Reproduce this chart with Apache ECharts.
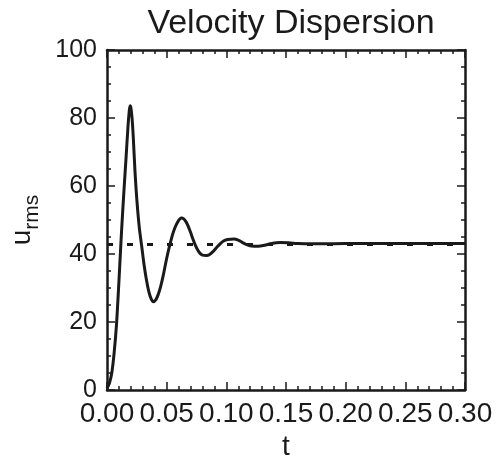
<!DOCTYPE html>
<html>
<head>
<meta charset="utf-8">
<script src="https://cdn.jsdelivr.net/npm/echarts@6/dist/echarts.min.js"></script>
<style>html,body{margin:0;padding:0;background:#fff;}#c{width:497px;height:466px;}</style>
</head>
<body>
<div id="c"></div>
<script>
var titleText = 'Velocity Dispersion';
var xName = 't';
var xTickLabels = ['0.00', '0.05', '0.10', '0.15', '0.20', '0.25', '0.30'];
var yTickLabels = ['0', '20', '40', '60', '80', '100'];
var tValues = [0, 0.002, 0.004, 0.006, 0.008, 0.010, 0.012, 0.014, 0.016, 0.0175, 0.0185, 0.0193, 0.020, 0.021, 0.022, 0.0235, 0.025, 0.027, 0.029, 0.031, 0.033, 0.035, 0.037, 0.0388, 0.041, 0.043, 0.045, 0.047, 0.049, 0.051, 0.053, 0.055, 0.057, 0.059, 0.061, 0.0626, 0.064, 0.066, 0.068, 0.070, 0.072, 0.074, 0.076, 0.078, 0.080, 0.0835, 0.086, 0.089, 0.092, 0.095, 0.098, 0.101, 0.1064, 0.110, 0.113, 0.117, 0.121, 0.1268, 0.132, 0.138, 0.145, 0.152, 0.16, 0.17, 0.18, 0.20, 0.22, 0.25, 0.28, 0.30];
var uValues = [0.5, 2, 5, 11, 19.5, 32, 45.5, 57.5, 68.5, 77, 81.5, 83.6, 83, 80, 74.5, 64, 56, 48, 42.5, 37, 32.5, 29, 26.8, 26, 26.6, 28.2, 30.5, 33.5, 37, 40.3, 43.2, 45.8, 47.8, 49.3, 50.3, 50.6, 50.4, 49.6, 48.2, 46.4, 44.4, 42.6, 41.2, 40.2, 39.7, 39.6, 39.9, 40.8, 42, 43.1, 43.9, 44.3, 44.4, 44.1, 43.5, 42.8, 42.4, 42.3, 42.6, 43.1, 43.4, 43.3, 43.1, 43.0, 43.0, 43.1, 43.1, 43.1, 43.1, 43.1];
var refT = [0, 0.30];
var refU = [42.8, 42.8];

var curve = tValues.map(function (t, i) { return [t, uValues[i]]; });
var refLine = refT.map(function (t, i) { return [t, refU[i]]; });

var FONT = 'Liberation Sans';
var INK = '#1a1a1a';

function xAxisDef(pos, labels) {
  return {
    type: 'value', position: pos, min: 0, max: 0.3, interval: 0.05,
    axisLine: { show: true, onZero: false, lineStyle: { color: INK, width: 2.5 } },
    axisTick: { show: true, inside: true, length: 8, lineStyle: { color: INK, width: 1.5 } },
    minorTick: { show: true, splitNumber: 5, length: 4, lineStyle: { color: INK, width: 1.5 } },
    splitLine: { show: false },
    axisLabel: {
      show: labels, margin: 10, fontFamily: FONT, fontSize: 28, color: INK,
      formatter: function (v) { return xTickLabels[Math.round(v / 0.05)]; }
    },
    name: labels ? xName : '', nameLocation: 'middle', nameGap: 41,
    nameTextStyle: { fontFamily: FONT, fontSize: 28, color: INK }
  };
}
function yAxisDef(pos, labels) {
  return {
    type: 'value', position: pos, min: 0, max: 100, interval: 20,
    axisLine: { show: true, onZero: false, lineStyle: { color: INK, width: 2.5 } },
    axisTick: { show: true, inside: true, length: 8, lineStyle: { color: INK, width: 1.5 } },
    minorTick: { show: true, splitNumber: 4, length: 4, lineStyle: { color: INK, width: 1.5 } },
    splitLine: { show: false },
    axisLabel: {
      show: labels, margin: 10, fontFamily: FONT, fontSize: 25, color: INK,
      formatter: function (v) { return yTickLabels[Math.round(v / 20)]; }
    },
    name: labels ? '{u|u}{s|rms}' : '', nameLocation: 'middle', nameGap: 64,
    nameTextStyle: {
      fontFamily: FONT, color: INK,
      rich: {
        u: { fontFamily: FONT, fontSize: 28, color: INK, verticalAlign: 'top' },
        s: { fontFamily: FONT, fontSize: 21, color: INK, padding: [14, 0, 0, 0], verticalAlign: 'bottom' }
      }
    }
  };
}

var chart = echarts.init(document.getElementById('c'), null, { renderer: 'canvas' });
chart.setOption({
  backgroundColor: '#ffffff',
  animation: false,
  title: {
    text: titleText, left: 286, top: 2, textAlign: 'center',
    textStyle: { fontFamily: FONT, fontSize: 34, fontWeight: 'normal', color: INK }
  },
  grid: { left: 107, right: 32, top: 50, bottom: 68 },
  xAxis: [xAxisDef('bottom', true), xAxisDef('top', false)],
  yAxis: [yAxisDef('left', true), yAxisDef('right', false)],
  series: [
    {
      type: 'line', data: refLine, symbol: 'none', z: 2,
      lineStyle: { color: INK, width: 3, type: [6, 14] }
    },
    {
      type: 'line', data: curve, symbol: 'none', smooth: 0.3, z: 3,
      lineStyle: { color: INK, width: 3 }
    }
  ]
});
</script>
</body>
</html>
